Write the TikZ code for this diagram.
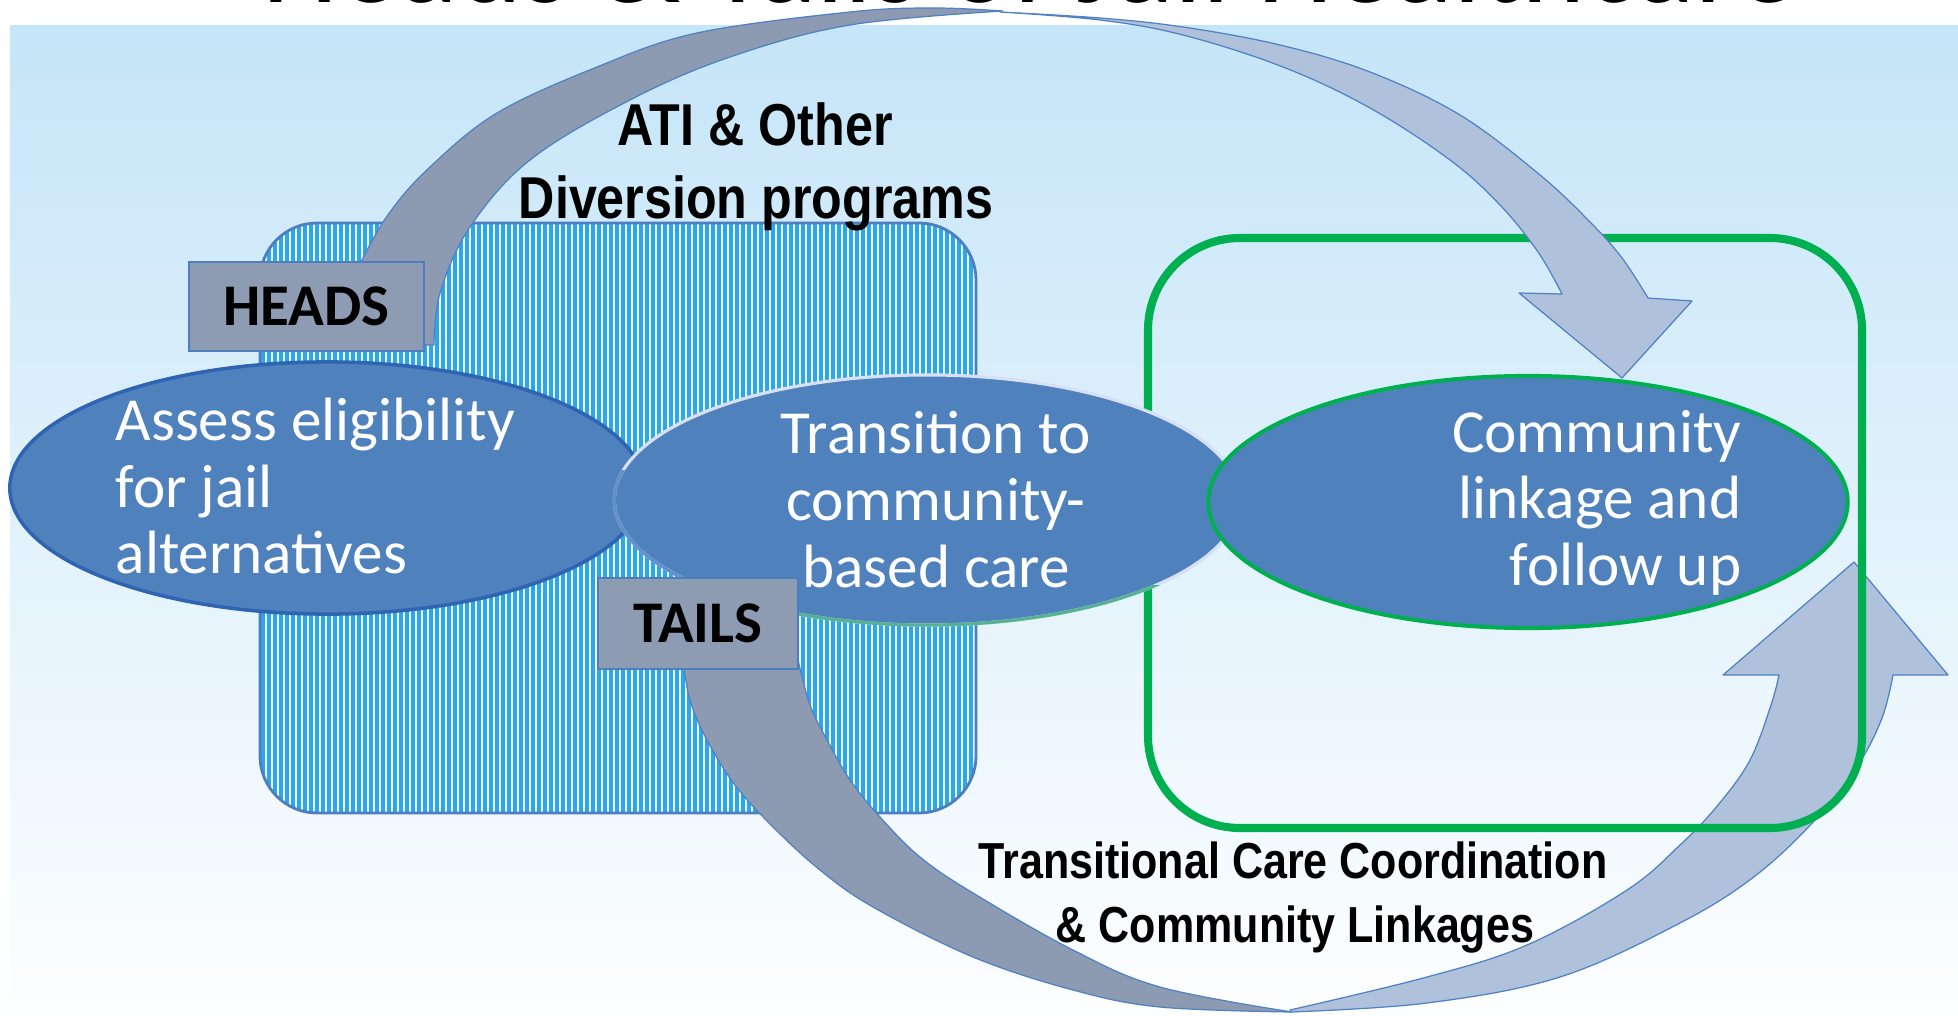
\documentclass[tikz,border=0pt]{standalone}
\usepackage{fontspec}
\setmainfont{Carlito}
\newfontfamily\narrowbf{Liberation Sans}[FakeStretch=0.85]
\usetikzlibrary{shapes.geometric}

\definecolor{bgtop}{RGB}{197,229,248}
\definecolor{bgbottom}{RGB}{253,254,255}
\definecolor{stripeblue}{RGB}{46,166,232}
\definecolor{stripegap}{RGB}{232,246,253}
\definecolor{boxline}{RGB}{79,126,190}
\definecolor{ellfill}{RGB}{79,129,189}
\definecolor{ellline}{RGB}{46,100,178}
\definecolor{tagfill}{RGB}{142,156,179}
\definecolor{banddark}{RGB}{141,155,178}
\definecolor{bandlight}{RGB}{176,193,220}
\definecolor{bandline}{RGB}{79,129,195}
\definecolor{linkgreen}{RGB}{0,176,80}
\definecolor{rimpale}{RGB}{214,224,242}
\definecolor{rimblue}{RGB}{100,143,203}
\definecolor{rimteal}{RGB}{86,178,146}

\begin{document}
\begin{tikzpicture}[x=0.01cm, y=-0.01cm,
  band/.style={draw=bandline, line width=0.35pt, line join=round},
  darkband/.style={band, fill=banddark},
  lightband/.style={band, fill=bandlight},
  stage/.style={ellipse, fill=ellfill, inner sep=0pt, outer sep=0pt},
  stagetext/.style={text=white, inner sep=0pt, font=\fontsize{17.4pt}{19pt}\selectfont},
  tag/.style={rectangle, fill=tagfill, draw=boxline, line width=0.35pt, inner sep=0pt,
    font=\fontsize{16.8pt}{20pt}\selectfont\bfseries},
  caption/.style={inner sep=0pt, font=\narrowbf\bfseries\fontsize{16.8pt}{20pt}\selectfont},
  smallcaption/.style={inner sep=0pt, font=\narrowbf\bfseries\fontsize{14.4pt}{17pt}\selectfont},
  stripe/.style={draw=stripeblue, line width=1.0pt}]

\useasboundingbox (0,0) rectangle (1958,1015);
\fill[white] (0,0) rectangle (1958,1015);

% slide background
\shade[top color=bgtop, bottom color=bgbottom] (10,25) rectangle (1958,1015);

% title, cut by the top edge
\begin{scope}
  \clip (0,0) rectangle (1958,1015);
  \node[anchor=base, inner sep=0pt, font=\fontsize{34.7pt}{40pt}\selectfont] (title) at (1030,2.5)
    {Heads \& Tails of Jail Healthcare};
\end{scope}

% striped panel behind the first two stages
\begin{scope}
  \clip[rounded corners=0.57cm] (260,223) rectangle (976,813);
  \fill[stripegap] (260,223) rectangle (976,813);
  \foreach \sx in {263,269,...,977} \draw[stripe] (\sx,220) -- (\sx,816);
\end{scope}
\draw[boxline, line width=0.8pt, rounded corners=0.57cm] (260,223) rectangle (976,813);

% lower curved arrow (tails)
\path[darkband]
  plot[smooth, tension=0.6] coordinates {(683,660) (690,700) (707,740) (735,785) (773,827)
    (820,870) (873,907) (973,957) (1073,990) (1160,1007) (1292,1012)}
  -- plot[smooth, tension=0.6] coordinates {(1292,1012) (1160,987) (1073,950) (973,893)
    (920,857) (880,817) (850,780) (827,740) (810,705) (798,660)}
  -- cycle;
\path[lightband]
  plot[smooth, tension=0.6] coordinates {(1290,1012) (1427,1003) (1560,977) (1680,923)
    (1755,876) (1815,820) (1858,765) (1882,718) (1893,675)}
  -- (1948,675) -- (1854,562) -- (1723,675) -- (1779,675)
  -- plot[smooth, tension=0.6] coordinates {(1779,675) (1771,705) (1750,760) (1718,805)
    (1680,845) (1627,890) (1527,945) (1427,977) (1290,1010)}
  -- cycle;

% green frame around the community stage
\draw[linkgreen, line width=2.3pt, rounded corners=0.92cm] (1148,238) rectangle (1862,828);

% upper curved arrow (heads)
\path[lightband]
  plot[smooth, tension=0.6] coordinates {(1000,12) (1100,18) (1183,27) (1280,45) (1370,72)
    (1460,115) (1540,175) (1590,222) (1622,258) (1648,298)}
  -- (1692,301) -- (1622,378) -- (1519,293) -- (1562,294)
  -- plot[smooth, tension=0.6] coordinates {(1562,294) (1538,252) (1500,205) (1450,160)
    (1370,108) (1283,67) (1183,35) (1100,20) (1000,12)}
  -- cycle;
\path[darkband]
  plot[smooth, tension=0.6] coordinates {(338,345) (345,300) (362,260) (390,212) (430,167)
    (497,113) (597,67) (697,33) (850,12) (933,8) (1003,11)}
  -- plot[smooth, tension=0.6] coordinates {(1003,11) (850,25) (730,57) (630,100) (530,160)
    (470,227) (440,293) (434,345)}
  -- cycle;

% the three stages
\node[stage, draw=ellline, line width=1pt, minimum width=6.34cm, minimum height=2.52cm]
  (assess) at (327,488) {};
\node[stage, minimum width=6.25cm, minimum height=2.50cm] (transition) at (927,500) {};
\draw[rimpale, line width=0.9pt] (transition.center) ellipse [x radius=3.125cm, y radius=1.25cm];
\begin{scope}
  \clip (600,470) rectangle (770,640);
  \draw[rimblue, line width=0.9pt] (transition.center) ellipse [x radius=3.125cm, y radius=1.25cm];
\end{scope}
\begin{scope}
  \clip (700,585) rectangle (1160,640);
  \draw[rimteal, line width=0.9pt] (transition.center) ellipse [x radius=3.125cm, y radius=1.25cm];
\end{scope}
\node[stage, draw=linkgreen, line width=1.15pt, minimum width=6.39cm, minimum height=2.52cm]
  (linkage) at (1528,502) {};

% coin-side tags
\node[tag, minimum width=2.35cm, minimum height=0.89cm] (heads) at (306.5,306.5) {HEADS};
\node[tag, minimum width=2.00cm, minimum height=0.91cm] (tails) at (698,623.5) {TAILS};

% stage texts
\node[stagetext, anchor=base west] (assess1) at (115,440) {Assess eligibility};
\node[stagetext, anchor=base west] (assess2) at (115,507) {for jail};
\node[stagetext, anchor=base west] (assess3) at (115,573) {alternatives};

\node[stagetext, anchor=base] (trans1) at (936,453) {Transition to};
\node[stagetext, anchor=base] (trans2) at (936,520) {community-};
\node[stagetext, anchor=base] (trans3) at (936,587) {based care};

\node[stagetext, anchor=base east] (link1) at (1742,452) {Community};
\node[stagetext, anchor=base east] (link2) at (1742,518) {linkage and};
\node[stagetext, anchor=base east] (link3) at (1742,585) {follow up};

% arrow captions
\node[caption, anchor=base] (ati1) at (755,145) {ATI \& Other};
\node[caption, anchor=base] (ati2) at (756,218) {Diversion programs};
\node[smallcaption, anchor=base] (tcc1) at (1293,878) {Transitional Care Coordination};
\node[smallcaption, anchor=base] (tcc2) at (1295,942) {\& Community Linkages};

\end{tikzpicture}
\end{document}
